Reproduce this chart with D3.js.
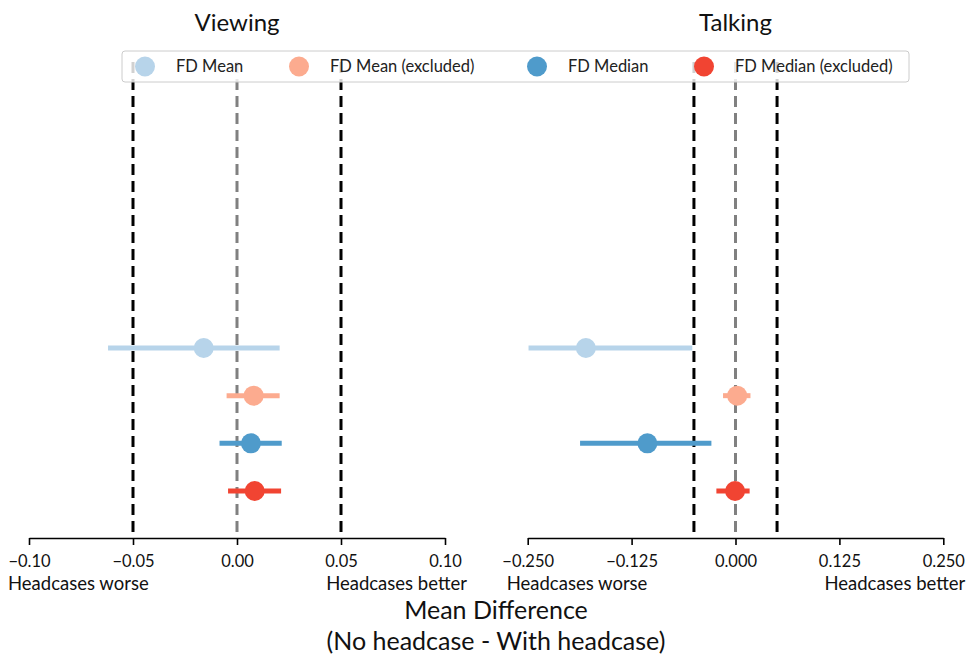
<!DOCTYPE html>
<html><head><meta charset="utf-8">
<script src="https://cdn.jsdelivr.net/npm/d3@7"></script>
<style>body{margin:0;background:#fff}svg{display:block}text{font-family:Lato,"Open Sans",sans-serif}</style>
</head><body>
<script>
const series = ["FD Mean","FD Mean (excluded)","FD Median","FD Median (excluded)"];
const colors = ["#b7d4ea","#fcab8f","#4f9bcb","#f14432"];
const panels = ["Viewing","Talking"];
const viewMean = [-0.016, 0.008, 0.0067, 0.0085];
const viewLo   = [-0.062, -0.005, -0.0084, -0.0043];
const viewHi   = [0.0205, 0.0205, 0.0215, 0.0212];
const talkMean = [-0.18, 0.002, -0.106, -0.0005];
const talkLo   = [-0.249, -0.015, -0.187, -0.023];
const talkHi   = [-0.052, 0.018, -0.029, 0.017];
const viewTicks = [-0.10,-0.05,0.00,0.05,0.10];
const talkTicks = [-0.250,-0.125,0.000,0.125,0.250];
const viewDomain = [-0.10,0.10], talkDomain = [-0.25,0.25];
const refLines = [-0.05, 0.05];

const W=974,H=658;
const svg=d3.select("body").append("svg").attr("width",W).attr("height",H);
const axisY=538;
const rowY=d3.scalePoint().domain(series).range([348,491]);
const cfg=[
 {title:panels[0],dom:viewDomain,ticks:viewTicks,fmt:d3.format(".2f"),mean:viewMean,lo:viewLo,hi:viewHi,x0:29,x1:445},
 {title:panels[1],dom:talkDomain,ticks:talkTicks,fmt:d3.format(".3f"),mean:talkMean,lo:talkLo,hi:talkHi,x0:527.7,x1:943.3}
];
cfg.forEach(c=>{
  const x=d3.scaleLinear().domain(c.dom).range([c.x0,c.x1]);
  const g=svg.append("g");
  refLines.forEach(v=>{
    g.append("line").attr("x1",x(v)).attr("x2",x(v)).attr("y1",62).attr("y2",axisY)
     .attr("stroke","#000").attr("stroke-width",3).attr("stroke-dasharray","11,6");
  });
  g.append("line").attr("x1",x(0)).attr("x2",x(0)).attr("y1",62).attr("y2",axisY)
   .attr("stroke","#808080").attr("stroke-width",3).attr("stroke-dasharray","11,6");
  series.forEach((s,i)=>{
    g.append("line").attr("x1",x(c.lo[i])).attr("x2",x(c.hi[i])).attr("y1",rowY(s)).attr("y2",rowY(s))
      .attr("stroke",colors[i]).attr("stroke-width",5);
    g.append("circle").attr("cx",x(c.mean[i])).attr("cy",rowY(s)).attr("r",10).attr("fill",colors[i]);
  });
  const ax=g.append("g").attr("transform",`translate(0,${axisY})`)
    .call(d3.axisBottom(x).tickValues(c.ticks).tickFormat(d=>c.fmt(d).replace("-","\u2212")).tickSize(7).tickSizeOuter(0).tickPadding(4));
  ax.select(".domain").attr("stroke","#000").attr("stroke-width",1.6);
  ax.selectAll(".tick line").attr("stroke","#000").attr("stroke-width",1.6);
  ax.selectAll(".tick text").attr("font-size",16.5).attr("fill","#111").attr("dy",null).attr("y",29).attr("font-family","Lato, sans-serif");
  g.append("text").attr("x",c.x0-21).attr("y",590).attr("font-size",18.5).attr("fill","#111").text("Headcases worse");
  g.append("text").attr("x",c.x1+22).attr("y",590).attr("text-anchor","end").attr("font-size",18.5).attr("fill","#111").text("Headcases better");
  g.append("text").attr("x",x(0)).attr("y",31).attr("text-anchor","middle").attr("font-size",24).attr("fill","#111").text(c.title);
});
const lg=svg.append("g");
lg.append("rect").attr("x",122).attr("y",51).attr("width",787).attr("height",31).attr("rx",3)
  .attr("fill","#fff").attr("fill-opacity",0.82).attr("stroke","#ccc").attr("stroke-width",1);
const lgx=[145,299,537,704];
series.forEach((s,i)=>{
  lg.append("circle").attr("cx",lgx[i]).attr("cy",66.5).attr("r",10).attr("fill",colors[i]);
  lg.append("text").attr("x",lgx[i]+31).attr("y",72).attr("font-size",16.5).attr("fill","#222").text(s);
});
svg.append("text").attr("x",496).attr("y",619).attr("text-anchor","middle").attr("font-size",25).attr("fill","#111").text("Mean Difference");
svg.append("text").attr("x",496).attr("y",649.5).attr("text-anchor","middle").attr("font-size",25).attr("fill","#111").text("(No headcase - With headcase)");
</script>
</body></html>
